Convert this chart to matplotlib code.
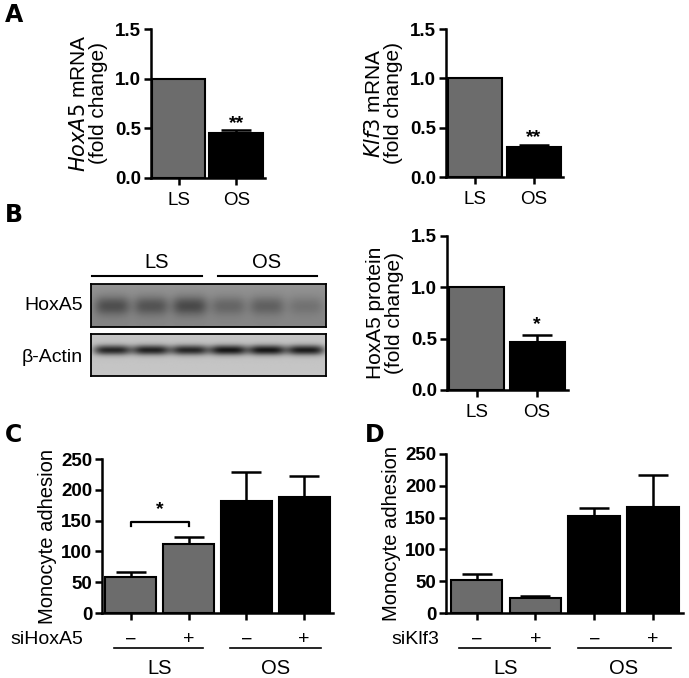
import numpy as np
import matplotlib.pyplot as plt
from matplotlib import transforms

plt.rcParams['font.family'] = ['Liberation Sans', 'DejaVu Sans']

W, H = 689, 678

# ---- data ----
groups = ['LS', 'OS']
hoxa5_mrna = [1.0, 0.45]
hoxa5_mrna_err = [0.0, 0.035]
klf3_mrna = [1.0, 0.30]
klf3_mrna_err = [0.0, 0.025]
hoxa5_protein = [1.0, 0.47]
hoxa5_protein_err = [0.0, 0.065]

treat = ['\u2212', '+', '\u2212', '+']
adh_hoxa5 = [59, 112, 182, 188]
adh_hoxa5_err = [8, 11, 47, 35]
adh_klf3 = [52, 24, 153, 167]
adh_klf3_err = [10, 2, 12, 50]

# western blot band strengths (6 lanes: 3 LS, 3 OS)
blot_lanes = [0.09, 0.255, 0.42, 0.585, 0.75, 0.915]
hoxa5_band = [0.24, 0.22, 0.26, 0.15, 0.17, 0.10]
actin_band = [0.62, 0.64, 0.62, 0.68, 0.68, 0.66]

LS_GRAY = '#6c6c6c'
colors2 = [LS_GRAY, 'black']
colors4 = [LS_GRAY, LS_GRAY, 'black', 'black']

TICK_FS = 13.5
CAT_FS = 14.5


def px(x0, y0, x1, y1):
    return [x0 / W, 1 - y1 / H, (x1 - x0) / W, (y1 - y0) / H]


def style(ax):
    for s in ['top', 'right']:
        ax.spines[s].set_visible(False)
    for s in ['left', 'bottom']:
        ax.spines[s].set_linewidth(1.8)
    ax.tick_params(width=1.8, length=5, labelsize=TICK_FS, pad=2)
    for lab in ax.get_yticklabels():
        lab.set_fontweight('bold')


def bars(ax, vals, errs, cols, width):
    x = np.arange(len(vals))
    ax.bar(x, vals, width=width, color=cols, edgecolor='black', linewidth=1.5, zorder=2)
    ax.errorbar(x, vals, yerr=[np.zeros(len(errs)), errs], fmt='none', ecolor='black',
                elinewidth=1.8, capsize=11, capthick=1.8, zorder=1)
    return x


fig = plt.figure(figsize=(W / 100, H / 100), dpi=100)


def fold_panel(rect, vals, errs, width, xlim, ylab, stars, star_y):
    ax = fig.add_axes(rect)
    x = bars(ax, vals, errs, colors2, width)
    ax.set_xlim(*xlim)
    ax.set_ylim(0, 1.5)
    ax.set_yticks([0, 0.5, 1.0, 1.5])
    ax.set_yticklabels(['0.0', '0.5', '1.0', '1.5'])
    ax.set_xticks(x)
    ax.set_xticklabels(groups, fontsize=CAT_FS)
    style(ax)
    ax.tick_params(axis='x', pad=5)
    ax.set_ylabel(ylab, fontsize=15, labelpad=5, linespacing=1.05)
    ax.text(1, star_y, stars, ha='center', va='center', fontsize=14, fontweight='bold')
    return ax


fold_panel(px(151, 29, 265, 178), hoxa5_mrna, hoxa5_mrna_err, 0.93, (-0.48, 1.5),
           '$\\it{HoxA5}$ mRNA\n(fold change)', '**', 0.55)
fold_panel(px(446, 29, 563, 177), klf3_mrna, klf3_mrna_err, 0.92, (-0.5, 1.5),
           '$\\it{Klf3}$ mRNA\n(fold change)', '**', 0.40)
fold_panel(px(447, 236, 568, 390), hoxa5_protein, hoxa5_protein_err, 0.91, (-0.49, 1.51),
           'HoxA5 protein\n(fold change)', '*', 0.64)

# ---- western blot ----
xs = np.linspace(0, 1, 240)


def blot(rect, bg, strengths, yc, ysig, xsig, vtop):
    ax = fig.add_axes(rect)
    ys = np.linspace(0, 1, 50)[:, None]
    img = bg + vtop * (0.5 - ys) * 0.3 + 0 * xs[None, :]
    for lx, s in zip(blot_lanes, strengths):
        img = img - s * np.exp(-((xs[None, :] - lx) / xsig) ** 4) * np.exp(-((ys - yc) / ysig) ** 2)
    ax.imshow(img, cmap='gray', vmin=0, vmax=1, aspect='auto', extent=(0, 1, 1, 0),
              interpolation='bilinear')
    ax.set_xticks([])
    ax.set_yticks([])
    for s in ax.spines.values():
        s.set_linewidth(1.3)
    return ax


blot(px(91, 284, 326, 327), 0.55, hoxa5_band, 0.52, 0.22, 0.075, 0.2)
blot(px(91, 334, 326, 376), 0.77, actin_band, 0.38, 0.12, 0.08, 0.0)
fig.text(83 / W, 1 - 306 / H, 'HoxA5', ha='right', va='center', fontsize=14)
fig.text(83 / W, 1 - 357 / H, '\u03b2-Actin', ha='right', va='center', fontsize=14)
fig.add_artist(plt.Line2D([92 / W, 202 / W], [1 - 276 / H] * 2, color='black', lw=1.5))
fig.add_artist(plt.Line2D([218 / W, 317 / W], [1 - 276 / H] * 2, color='black', lw=1.5))
fig.text(157 / W, 1 - 263 / H, 'LS', ha='center', va='center', fontsize=CAT_FS)
fig.text(267 / W, 1 - 263 / H, 'OS', ha='center', va='center', fontsize=CAT_FS)


# ---- adhesion panels ----
def adhesion_panel(rect, vals, errs, xlim, sirna, si_x):
    ax = fig.add_axes(rect)
    x = bars(ax, vals, errs, colors4, 0.88)
    ax.set_xlim(*xlim)
    ax.set_ylim(0, 250)
    ax.set_yticks([0, 50, 100, 150, 200, 250])
    ax.set_xticks(x)
    ax.set_xticklabels([])
    style(ax)
    ax.set_ylabel('Monocyte adhesion', fontsize=14.5, labelpad=3)
    h = rect[3] * H
    tr = transforms.blended_transform_factory(ax.transData, ax.transAxes)
    yt = -27 / h
    yl = -35 / h
    yg = -55 / h
    for xi, t in zip(x, treat):
        ax.text(xi, yt, t, transform=tr, ha='center', va='center', fontsize=14)
    ax.text(si_x, yt, sirna, transform=tr, ha='right', va='center', fontsize=14)
    for (a, b), g, gx in zip([(-0.3, 1.25), (1.72, 3.3)], groups, [0.5, 2.5]):
        ax.plot([a, b], [yl, yl], transform=tr, color='black', lw=1.2, clip_on=False)
        ax.text(gx, yg, g, transform=tr, ha='center', va='center', fontsize=CAT_FS)
    return ax


axc = adhesion_panel(px(102, 459, 333, 613), adh_hoxa5, adh_hoxa5_err, (-0.5, 3.5),
                     'siHoxA5', -0.83)
axc.plot([0, 0, 1, 1], [141, 148.5, 148.5, 141], color='black', lw=1.6)
axc.text(0.5, 168, '*', ha='center', va='center', fontsize=14, fontweight='bold')

adhesion_panel(px(446, 454, 683, 613), adh_klf3, adh_klf3_err, (-0.52, 3.51),
               'siKlf3', -0.64)

# ---- panel letters ----
for lx, ly, l in [(5, 15, 'A'), (5, 215, 'B'), (5, 435, 'C'), (365, 435, 'D')]:
    fig.text(lx / W, 1 - ly / H, l, ha='left', va='center', fontsize=17, fontweight='heavy',
             family='DejaVu Sans')

fig.savefig('out.png', dpi=100)
